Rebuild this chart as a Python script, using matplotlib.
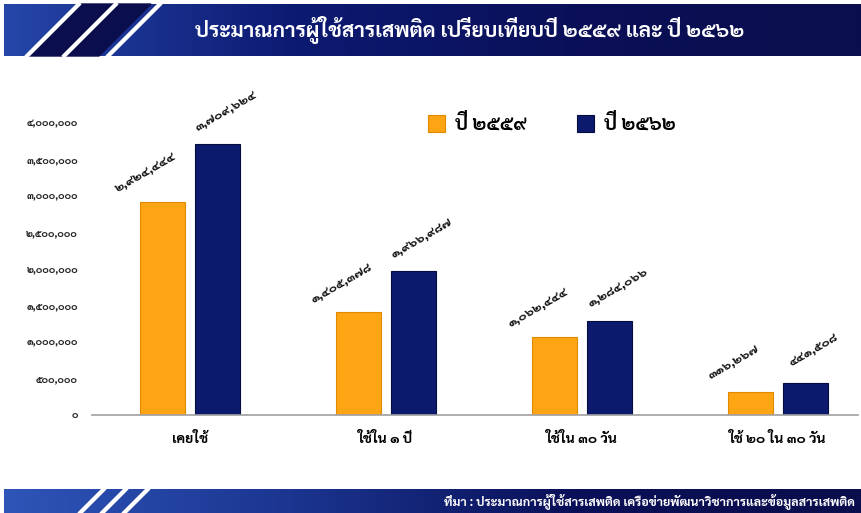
import matplotlib
matplotlib.use("Agg")
import matplotlib.pyplot as plt
import numpy as np
from matplotlib import font_manager
from matplotlib.ft2font import FT2Font
from matplotlib.patches import Polygon
from matplotlib.ticker import FuncFormatter
from matplotlib.colors import LinearSegmentedColormap

# ---------------- data ----------------
categories = ["เคยใช้", "ใช้ใน ๑ ปี", "ใช้ใน ๓๐ วัน", "ใช้ ๒๐ ใน ๓๐ วัน"]
series_names = ["ปี ๒๕๕๙", "ปี ๒๕๖๒"]
values_2559 = [2924444, 1405378, 1062444, 316267]
values_2562 = [3709624, 1966987, 1284066, 441508]
y_ticks = [0, 500000, 1000000, 1500000, 2000000, 2500000, 3000000, 3500000, 4000000]
title = "ประมาณการผู้ใช้สารเสพติด เปรียบเทียบปี ๒๕๕๙ และ ปี ๒๕๖๒"
source = "ที่มา : ประมาณการผู้ใช้สารเสพติด เครือข่ายพัฒนาวิชาการและข้อมูลสารเสพติด"

# ---------------- font with Thai glyphs ----------------
thai = {}
for f in font_manager.fontManager.ttflist:
    try:
        cm = FT2Font(f.fname).get_charmap()
        if 0x0E1B in cm and 0x0E51 in cm:
            thai.setdefault(f.name, f.fname)
    except Exception:
        pass
FONT = None
for cand in ["Sarabun", "Noto Sans Thai", "Tahoma", "Kanit", "Prompt", "IBM Plex Sans Thai"]:
    if cand in thai:
        FONT = cand
        break
if FONT is None:
    FONT = sorted(thai)[0] if thai else "DejaVu Sans"
plt.rcParams["font.family"] = [FONT, "DejaVu Sans"]

THAI_DIGITS = str.maketrans("0123456789", "๐๑๒๓๔๕๖๗๘๙")


def thai_num(v):
    return f"{int(v):,}".translate(THAI_DIGITS)


ORANGE = "#FFA412"
ORANGE_E = "#E08A00"
NAVY = "#0C1A6E"
NAVY_E = "#050C40"

W, H = 861, 513
fig = plt.figure(figsize=(W / 100, H / 100), dpi=100)


def fx(px):
    return px / W


def fy(py):
    return 1 - py / H


# ---------------- banners ----------------
bg = fig.add_axes([0, 0, 1, 1], zorder=0)
bg.set_xlim(0, W)
bg.set_ylim(H, 0)
bg.axis("off")

grad = np.linspace(0, 1, 400)[None, :]
cmap_top = LinearSegmentedColormap.from_list("t", ["#2546A8", "#0D1A72", "#0A1058", "#0A0E4C"])
bg.imshow(grad, extent=(4, W, 56, 4), cmap=cmap_top, aspect="auto", zorder=1)
for x0 in [29, 66]:
    bg.add_patch(Polygon([[x0, 56], [x0 + 33, 56], [x0 + 85, 4], [x0 + 52, 4]],
                         closed=True, color="#0A0E4C", zorder=1.5))
for x0 in [25, 62, 106]:
    bg.add_patch(Polygon([[x0, 56], [x0 + 4, 56], [x0 + 56, 4], [x0 + 52, 4]],
                         closed=True, color="white", zorder=2))

cmap_bot = LinearSegmentedColormap.from_list("b", ["#2E55B8", "#1B3590", "#0A1058", "#0A0E4C"])
bg.imshow(grad, extent=(4, W, H, 489), cmap=cmap_bot, aspect="auto", zorder=1)
for x0 in [78, 100, 122]:
    bg.add_patch(Polygon([[x0, H], [x0 + 4, H], [x0 + 28, 489], [x0 + 24, 489]],
                         closed=True, color="white", zorder=2))

fig.text(fx(470), fy(30), title, color="white", fontsize=15, fontweight="bold",
         ha="center", va="center", zorder=5)
fig.text(fx(855), fy(501), source, color="white", fontsize=9, fontweight="bold",
         ha="right", va="center", zorder=5)

# ---------------- chart ----------------
left_px, right_px, top_px, bottom_px = 92, 858, 123, 415
ax = fig.add_axes([fx(left_px), fy(bottom_px), fx(right_px - left_px), (bottom_px - top_px) / H],
                  zorder=3)
ax.patch.set_alpha(0)
x = np.arange(len(categories))
bw = 0.23
off = 0.14
b1 = ax.bar(x - off, values_2559, bw, color=ORANGE, edgecolor=ORANGE_E, linewidth=0.8,
            label=series_names[0])
b2 = ax.bar(x + off, values_2562, bw, color=NAVY, edgecolor=NAVY_E, linewidth=0.8,
            label=series_names[1])
ax.set_xlim(-0.5, 3.41)
ax.set_ylim(0, 4000000)
ax.set_yticks(y_ticks)
ax.yaxis.set_major_formatter(FuncFormatter(lambda v, p: thai_num(v)))
ax.tick_params(axis="y", length=0, pad=10, labelsize=7)
for lab in ax.get_yticklabels():
    lab.set_fontweight("bold")
    lab.set_color("#222222")
ax.set_xticks(x)
ax.set_xticklabels(categories, fontsize=10, fontweight="bold")
ax.tick_params(axis="x", length=0, pad=12)
for s in ["top", "right", "left"]:
    ax.spines[s].set_visible(False)
ax.spines["bottom"].set_color("#A0A0A0")
ax.spines["bottom"].set_linewidth(1.2)

for rect, v in zip(b1, values_2559):
    ax.annotate(thai_num(v), (rect.get_x() + rect.get_width() / 2, v),
                xytext=(-17 * 0.72, 30 * 0.72), textcoords="offset points",
                rotation=30, ha="center", va="center", fontsize=9, fontweight="bold",
                color="#111111")
for rect, v in zip(b2, values_2562):
    ax.annotate(thai_num(v), (rect.get_x() + rect.get_width() / 2, v),
                xytext=(8 * 0.72, 34 * 0.72), textcoords="offset points",
                rotation=30, ha="center", va="center", fontsize=9, fontweight="bold",
                color="#111111")

leg = fig.legend(handles=[b1, b2], labels=series_names, loc="center left",
                 bbox_to_anchor=(fx(410), fy(124)), ncol=2, frameon=False,
                 prop={"size": 14, "weight": "bold"}, handlelength=0.9, handleheight=0.9,
                 columnspacing=2.6, handletextpad=0.5)

fig.savefig("out.png", dpi=100)
